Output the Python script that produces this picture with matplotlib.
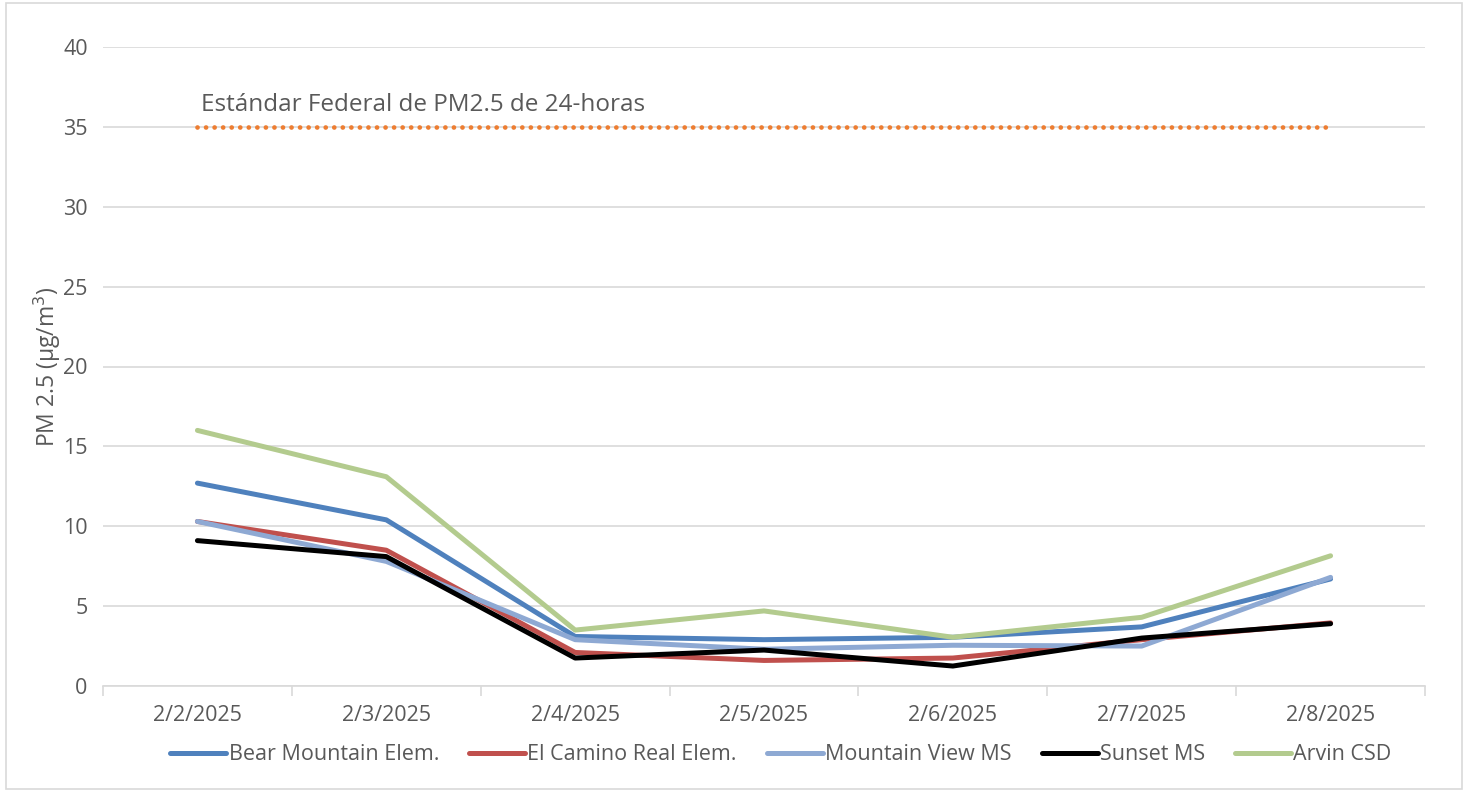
import numpy as np
import matplotlib.pyplot as plt
from matplotlib.patches import Rectangle

plt.rcParams['font.family'] = ['Open Sans', 'DejaVu Sans']

# data
dates = ["2/2/2025", "2/3/2025", "2/4/2025", "2/5/2025", "2/6/2025", "2/7/2025", "2/8/2025"]
bear_mountain = [12.7, 10.4, 3.1, 2.9, 3.05, 3.7, 6.7]
el_camino = [10.3, 8.5, 2.1, 1.6, 1.75, 2.9, 3.95]
mountain_view = [10.3, 7.8, 2.9, 2.3, 2.55, 2.5, 6.8]
sunset = [9.1, 8.1, 1.75, 2.25, 1.25, 3.0, 3.9]
arvin = [16.0, 13.1, 3.5, 4.7, 3.05, 4.3, 8.15]
federal_std = [35] * 7

series = [
    ("Bear Mountain Elem.", bear_mountain, "#4F81BD"),
    ("El Camino Real Elem.", el_camino, "#C0504D"),
    ("Mountain View MS", mountain_view, "#8EA9D3"),
    ("Sunset MS", sunset, "#000000"),
    ("Arvin CSD", arvin, "#B3CB8E"),
]

text_color = "#595959"
grid_color = "#D9D9D9"

fig = plt.figure(figsize=(14.68, 7.92), dpi=100)
ax = fig.add_axes([103 / 1468, 1 - 686 / 792, (1425 - 103) / 1468, (686 - 47) / 792])

x = np.arange(len(dates))

ax.plot(x, federal_std, color="#ED7D31", lw=3.4, linestyle=(0, (0.01, 1.8)),
        dash_capstyle="round", zorder=2)
ax.text(x[0] + 0.02, 35.6, "Estándar Federal de PM2.5 de 24-horas",
        fontsize=17.5, color=text_color, va="bottom", ha="left")

for i, (name, vals, col) in enumerate(series):
    ax.plot(x, vals, color=col, lw=3.6, label=name, solid_capstyle="round",
            solid_joinstyle="round", zorder=3 + i)

ax.set_xlim(-0.5, len(dates) - 0.5)
ax.set_ylim(0, 40)
ax.set_yticks(np.arange(0, 41, 5))
ax.set_xticks(x)
ax.set_xticklabels(dates)
ax.set_xticks(np.arange(-0.5, len(dates), 1), minor=True)
ax.tick_params(axis="x", which="major", length=0, pad=14, labelsize=15.5, labelcolor=text_color)
ax.tick_params(axis="x", which="minor", length=7, color=grid_color, width=1.2)
ax.tick_params(axis="y", length=0, pad=11, labelsize=15.5, labelcolor=text_color)

ax.grid(axis="y", color=grid_color, lw=1.2, zorder=0)
ax.set_axisbelow(True)
for side in ["top", "right", "left"]:
    ax.spines[side].set_visible(False)
ax.spines["bottom"].set_color(grid_color)
ax.spines["bottom"].set_linewidth(1.2)

ax.set_ylabel("PM 2.5 (µg/m$^3$)", fontsize=16.5, color=text_color)
ax.yaxis.set_label_coords(-0.03, 0.5)

leg = fig.legend(loc="center", bbox_to_anchor=(0.532, 1 - 755 / 792), ncol=5,
                 frameon=False, fontsize=15.5, handlelength=2.6, handletextpad=0.1,
                 columnspacing=1.4)
for t in leg.get_texts():
    t.set_color(text_color)

# outer chart border
fig.patches.append(Rectangle((0.004, 0.004), 0.992, 0.992, transform=fig.transFigure,
                             fill=False, edgecolor=grid_color, lw=1.2))

fig.savefig("out.png", dpi=100)
